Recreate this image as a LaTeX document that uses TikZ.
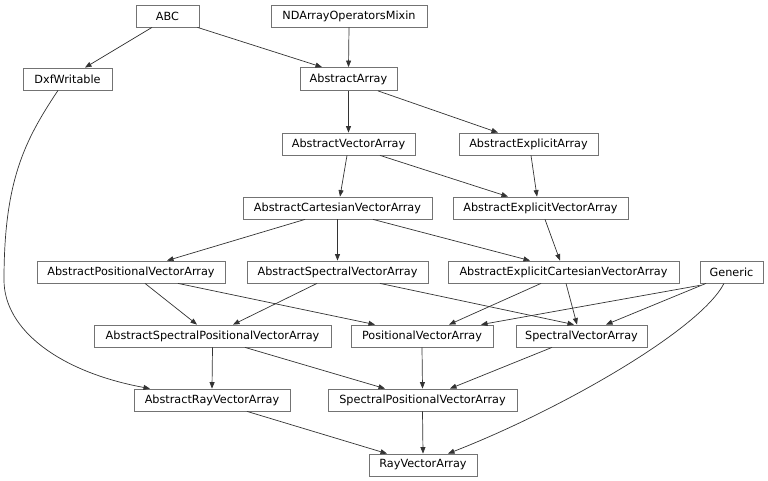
\documentclass[tikz,border=0pt]{standalone}
\usepackage{fontspec}
\setmainfont{DejaVu Sans}
\usetikzlibrary{arrows.meta}
\begin{document}
\begin{tikzpicture}[x=1pt,y=-1pt,
  cls/.style={draw=black!55, line width=0.8pt, fill=white, inner xsep=0pt, inner ysep=0pt,
    minimum height=22pt, font=\fontsize{11.25}{13}\selectfont},
  inh/.style={draw=black!80, line width=0.7pt, -{Triangle[length=6.5pt,width=5pt]}}]
\useasboundingbox (0,0) rectangle (768,481);
\fill[white] (0,0) rectangle (768,481);
% nodes
\node[cls, minimum width=63pt]  (abc)   at (167.5,16)  {ABC};
\node[cls, minimum width=156pt] (nd)    at (349,16)    {NDArrayOperatorsMixin};
\node[cls, minimum width=89pt]  (dxf)   at (67.5,79)   {DxfWritable};
\node[cls, minimum width=97pt, minimum height=23pt] (aa) at (348.5,79) {AbstractArray};
\node[cls, minimum width=133pt] (ava)   at (348.5,144) {AbstractVectorArray};
\node[cls, minimum width=139pt] (aea)   at (528.5,144) {AbstractExplicitArray};
\node[cls, minimum width=189pt] (acva)  at (337.5,208) {AbstractCartesianVectorArray};
\node[cls, minimum width=175pt] (aeva)  at (540.5,208) {AbstractExplicitVectorArray};
\node[cls, minimum width=188pt] (apva)  at (131,272)   {AbstractPositionalVectorArray};
\node[cls, minimum width=181pt] (asva)  at (337.5,272) {AbstractSpectralVectorArray};
\node[cls, minimum width=231pt] (aecva) at (563.5,272) {AbstractExplicitCartesianVectorArray};
\node[cls, minimum width=63pt]  (gen)   at (731.5,272) {Generic};
\node[cls, minimum width=237pt] (aspva) at (212.5,336) {AbstractSpectralPositionalVectorArray};
\node[cls, minimum width=142pt] (pva)   at (422,336)   {PositionalVectorArray};
\node[cls, minimum width=131pt] (sva)   at (581.5,336) {SpectralVectorArray};
\node[cls, minimum width=156pt] (arva)  at (212,400)   {AbstractRayVectorArray};
\node[cls, minimum width=189pt] (spva)  at (422.5,400) {SpectralPositionalVectorArray};
\node[cls, minimum width=108pt] (rva)   at (423,465)   {RayVectorArray};
% edges
\draw[inh] ([xshift=-15.5pt]abc.south) -- ([xshift=17.5pt]dxf.north);
\draw[inh] ([xshift=30pt]abc.south) -- ([xshift=-26.5pt]aa.north);
\draw[inh] (nd.south) -- (aa.north);
\draw[inh] (aa.south) -- (ava.north);
\draw[inh] ([xshift=29.5pt]aa.south) -- ([xshift=-30.5pt]aea.north);
\draw[inh] ([xshift=-1.5pt]ava.south) -- ([xshift=2.5pt]acva.north);
\draw[inh] ([xshift=31.5pt]ava.south) -- ([xshift=-32.5pt]aeva.north);
\draw[inh] ([xshift=2.5pt]aea.south) -- ([xshift=-3.5pt]aeva.north);
\draw[inh] ([xshift=-32.5pt]acva.south) -- ([xshift=36pt]apva.north);
\draw[inh] (acva.south) -- (asva.north);
\draw[inh] ([xshift=35.5pt]acva.south) -- ([xshift=-33.5pt]aecva.north);
\draw[inh] ([xshift=4.5pt]aeva.south) -- ([xshift=-3.5pt]aecva.north);
\draw[inh] ([xshift=14pt]apva.south) -- ([xshift=-15.5pt]aspva.north);
\draw[inh] ([xshift=47pt]apva.south) -- ([xshift=-47pt]pva.north);
\draw[inh] ([xshift=-20.5pt]asva.south) -- ([xshift=20.5pt]aspva.north);
\draw[inh] ([xshift=42.5pt]asva.south) -- ([xshift=-7.5pt]sva.north);
\draw[inh] ([xshift=-22.5pt]aecva.south) -- ([xshift=27pt]pva.north);
\draw[inh] ([xshift=2.5pt]aecva.south) -- ([xshift=-4.5pt]sva.north);
\draw[inh] ([yshift=-2pt]gen.south west) -- ([xshift=59pt]pva.north);
\draw[inh] ([xshift=-25.5pt]gen.south) -- ([xshift=24.5pt]sva.north);
\draw[inh] ([xshift=-7.5pt]gen.south) .. controls (700,330) and (560,410) .. ([xshift=25pt]rva.north);
\draw[inh] ([xshift=-9.5pt]dxf.south) .. controls (25,140) and (4,180) .. (4,280)
   .. controls (4,330) and (60,372) .. ([xshift=-62pt]arva.north);
\draw[inh] (aspva.south) -- (arva.north);
\draw[inh] ([xshift=32.5pt]aspva.south) -- ([xshift=-37.5pt]spva.north);
\draw[inh] (pva.south) -- (spva.north);
\draw[inh] ([xshift=-29.5pt]sva.south) -- ([xshift=27.5pt]spva.north);
\draw[inh] ([xshift=35pt]arva.south) -- ([xshift=-36pt]rva.north);
\draw[inh] (spva.south) -- (rva.north);
\end{tikzpicture}
\end{document}
